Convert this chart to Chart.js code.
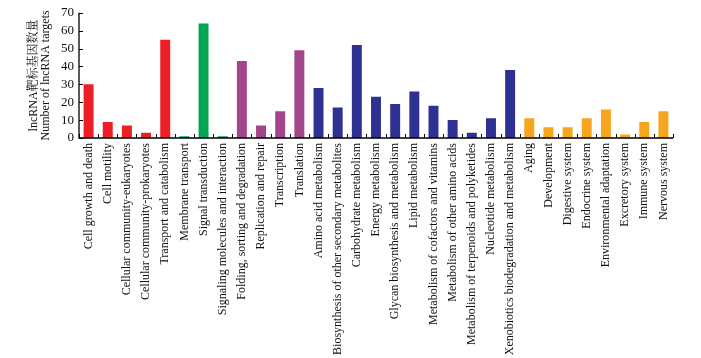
<!DOCTYPE html>
<html><head><meta charset="utf-8">
<script src="https://cdn.jsdelivr.net/npm/chart.js@4"></script>
<style>html,body{margin:0;padding:0;background:#fff}#wrap{width:701px;height:358px}</style>
</head><body><div id="wrap"><canvas id="c" width="701" height="358"></canvas></div>
<script>
const categories = ["Cell growth and death","Cell motility","Cellular community-eukaryotes","Cellular community-prokaryotes","Transport and catabolism","Membrane transport","Signal transduction","Signaling molecules and interaction","Folding, sorting and degradation","Replication and repair","Transcription","Translation","Amino acid metabolism","Biosynthesis of other secondary metabolites","Carbohydrate metabolism","Energy metabolism","Glycan biosynthesis and metabolism","Lipid metabolism","Metabolism of cofactors and vitamins","Metabolism of other amino acids","Metabolism of terpenoids and polyketides","Nucleotide metabolism","Xenobiotics biodegradation and metabolism","Aging","Development","Digestive system","Endocrine system","Environmental adaptation","Excretory system","Immune system","Nervous system"];
const values = [30,9,7,3,55,1,64,1,43,7,15,49,28,17,52,23,19,26,18,10,3,11,38,11,6,6,11,16,2,9,15];
const groups = [0,0,0,0,0,1,1,1,2,2,2,2,3,3,3,3,3,3,3,3,3,3,3,4,4,4,4,4,4,4,4];
const groupColors = ["#ED1F24","#00A651","#A3458A","#2E3192","#F7A51E"];
const yTicks = [0,10,20,30,40,50,60,70];
const yTitle = ["lncRNA靶标基因数量","Number of lncRNA targets"];

const serif = "'Liberation Serif','Times New Roman','Noto Serif CJK SC','Noto Sans CJK SC',serif";

const innerTicks = {
  id:'innerTicks',
  afterDraw(chart){
    const ctx = chart.ctx, x = chart.scales.x, y = chart.scales.y;
    const area = chart.chartArea;
    ctx.save();
    ctx.strokeStyle = '#000'; ctx.lineWidth = 1.3;
    ctx.beginPath();
    ctx.moveTo(area.left, y.getPixelForValue(70));
    ctx.lineTo(area.left, area.bottom);
    ctx.lineTo(area.right, area.bottom);
    ctx.stroke();
    ctx.lineWidth = 1;
    yTicks.forEach(v=>{
      const py = Math.round(y.getPixelForValue(v))+0.5;
      ctx.beginPath(); ctx.moveTo(area.left, py); ctx.lineTo(area.left+4, py); ctx.stroke();
    });
    const half = (x.getPixelForValue(1)-x.getPixelForValue(0))/2;
    for(let i=0;i<=categories.length;i++){
      const px = Math.round(x.getPixelForValue(i)-half)+0.5;
      ctx.beginPath(); ctx.moveTo(px, area.bottom); ctx.lineTo(px, area.bottom-4); ctx.stroke();
    }
    // y-axis title (two lines, rotated)
    const cy = (y.getPixelForValue(70)+y.getPixelForValue(0))/2;
    ctx.fillStyle = '#111';
    ctx.font = "12px " + serif;
    ctx.textAlign = 'center'; ctx.textBaseline = 'middle';
    [[34,yTitle[0]],[46,yTitle[1]]].forEach(([tx,t])=>{
      ctx.save(); ctx.translate(tx, cy); ctx.rotate(-Math.PI/2); ctx.fillText(t,0,0); ctx.restore();
    });
    ctx.restore();
  }
};

new Chart(document.getElementById('c'), {
  type:'bar',
  data:{
    labels: categories,
    datasets:[{
      data: values,
      backgroundColor: groups.map(g=>groupColors[g]),
      borderWidth:0,
      barPercentage:0.52,
      categoryPercentage:1.0
    }]
  },
  options:{
    responsive:false,
    animation:false,
    devicePixelRatio:1,
    layout:{padding:{top:-2,right:28,left:0,bottom:0}},
    plugins:{legend:{display:false},tooltip:{enabled:false}},
    scales:{
      x:{
        grid:{display:false,drawTicks:false},
        border:{display:false},
        ticks:{autoSkip:false,minRotation:90,maxRotation:90,padding:5,color:'#111',font:{family:serif,size:12}},
        afterFit(s){ s.height = 220; }
      },
      y:{
        min:0,max:70,
        grid:{display:false,drawTicks:false},
        border:{display:false},
        ticks:{autoSkip:false,stepSize:10,padding:5,color:'#111',font:{family:serif,size:13}},
        afterFit(s){ s.width = 79; }
      }
    }
  },
  plugins:[innerTicks]
});
</script>
</body></html>
